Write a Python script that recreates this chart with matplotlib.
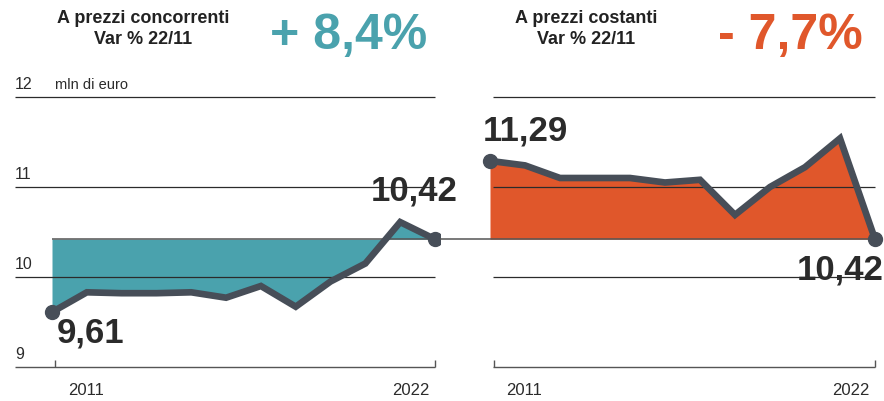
import matplotlib.pyplot as plt

plt.rcParams['font.family'] = ['Liberation Sans', 'DejaVu Sans']

years = list(range(2011, 2023))
correnti = [9.61, 9.83, 9.82, 9.82, 9.83, 9.77, 9.90, 9.67, 9.95, 10.15, 10.61, 10.42]
costanti = [11.29, 11.24, 11.10, 11.10, 11.10, 11.05, 11.08, 10.69, 11.00, 11.22, 11.54, 10.42]
ref = 10.42
grid_vals = [12, 11, 10]

teal = '#4aa2ad'
orange = '#e0572b'
line_col = '#474e58'
dark = '#2b2b2b'

fig = plt.figure(figsize=(8.84, 4.01), dpi=100)
W, H = 884, 401


def make_ax(px0, px1):
    ax = fig.add_axes([px0 / W, 1 / H, (px1 - px0) / W, 340 / H])
    ax.axis('off')
    ax.set_ylim(9 - 33 / 90, 12 + 37 / 90)
    return ax


# left panel: 2011 at px 52, 2022 at px 435
axl = make_ax(15, 440)
ppy = (435 - 52) / 11
axl.set_xlim(2011 - (52 - 15) / ppy, 2022 + 5 / ppy)

# right panel: 2011 at px 490, 2022 at px 875
axr = make_ax(480, 884)
ppy_r = (875 - 490) / 11
axr.set_xlim(2011 - 10 / ppy_r, 2022 + 9 / ppy_r)

for ax, x0, vals, col in [(axl, axl.get_xlim()[0], correnti, teal),
                          (axr, 2011 + 3 / ppy_r, costanti, orange)]:
    for g in grid_vals:
        ax.hlines(g, x0, 2022, color=dark, lw=0.9, zorder=3)
    ax.hlines(9, x0, 2022, color='#555555', lw=1.0, zorder=1)
    for t in (2011, 2022):
        ax.vlines(t + (0.1 if t == 2011 else 0), 9, 9.08, color='#555555', lw=1.0)
    ax.fill_between(years, vals, ref, color=col, lw=0, zorder=2)
    ax.plot(years, vals, color=line_col, lw=4.8, solid_joinstyle='miter', zorder=4)
    ax.plot([years[0], years[-1]], [vals[0], vals[-1]], 'o', color=line_col,
            ms=10, zorder=5)
    ax.text(2011 + 0.45, 8.74, '2011', fontsize=12, color=dark, va='center')
    ax.text(2022 - 0.15, 8.74, '2022', fontsize=12, color=dark, va='center', ha='right')

# reference line at 10,42 across both panels
axl.hlines(ref, 2011, 2022, color='#555555', lw=1.1, zorder=3)
axr.hlines(ref, 2011 - 50 / ppy_r, 2022, color='#555555', lw=1.1, zorder=3, clip_on=False)

# y labels
for g in [12, 11, 10, 9]:
    axl.text(axl.get_xlim()[0], g + 0.06, str(g), fontsize=11.5, color=dark, va='bottom')
axl.text(2011 + 0.08, 12.06, 'mln di euro', fontsize=10.5, color=dark, va='bottom')

# value labels
axl.text(2011 + 0.15, 9.38, '9,61', fontsize=25, fontweight='bold', color=dark, va='center')
axl.text(2022 - 0.6, 10.95, '10,42', fontsize=25, fontweight='bold', color=dark,
         va='center', ha='center')
axr.text(2011 - 0.2, 11.62, '11,29', fontsize=25, fontweight='bold', color=dark, va='center')
axr.text(2022 + 0.24, 10.08, '10,42', fontsize=25, fontweight='bold', color=dark,
         va='center', ha='right')

# headers
fig.text(143 / W, 1 - 29 / H, 'A prezzi concorrenti\nVar % 22/11', fontsize=13,
         fontweight='bold', color='#222222', ha='center', va='center', linespacing=1.3)
fig.text(586 / W, 1 - 29 / H, 'A prezzi costanti\nVar % 22/11', fontsize=13,
         fontweight='bold', color='#222222', ha='center', va='center', linespacing=1.3)
fig.text(349 / W, 1 - 36 / H, '+ 8,4%', fontsize=36, fontweight='bold', color=teal,
         ha='center', va='center')
fig.text(790 / W, 1 - 36 / H, '- 7,7%', fontsize=36, fontweight='bold', color=orange,
         ha='center', va='center')

fig.savefig('out.png', dpi=100, facecolor='white')
